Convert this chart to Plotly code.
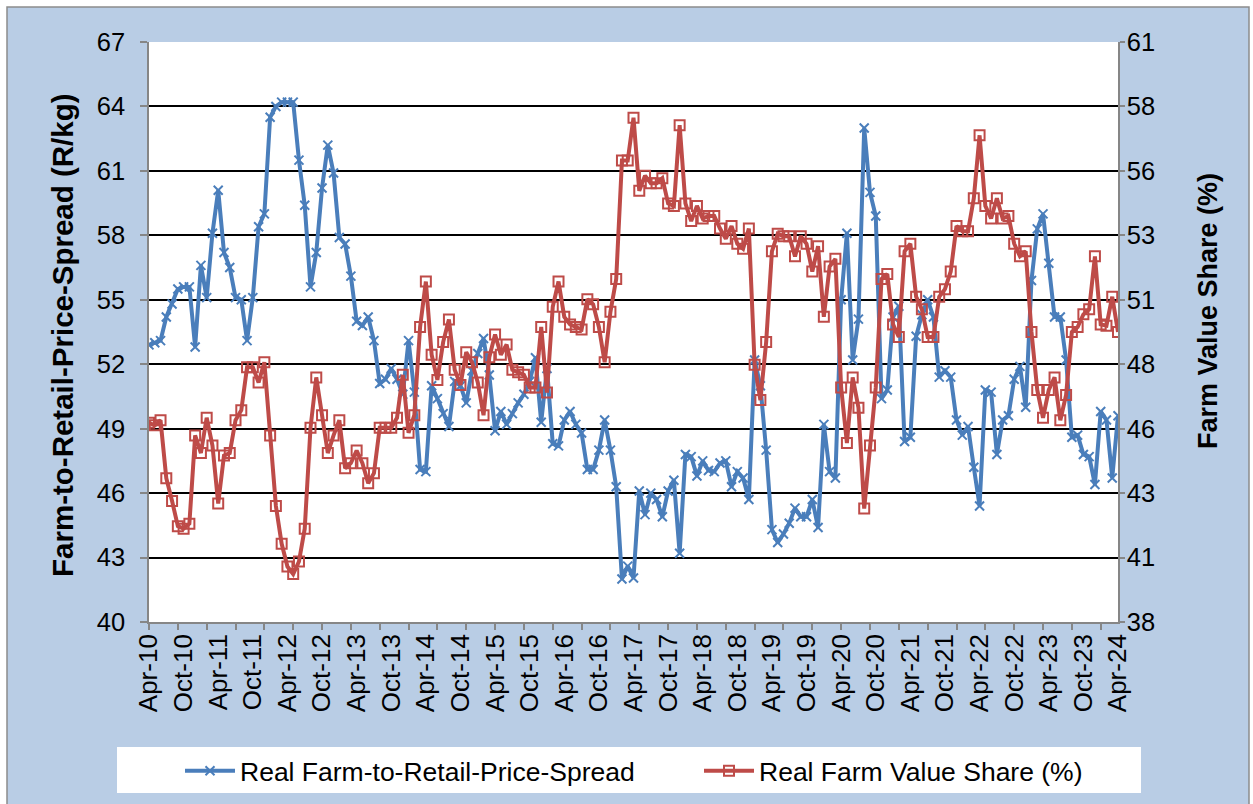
import plotly.graph_objects as go
import pandas as pd

# Monthly categories Apr-2010 .. Apr-2024
months = pd.date_range("2010-04-01", "2024-04-01", freq="MS")
month_labels = [d.strftime("%b-%y") for d in months]

# Real Farm-to-Retail-Price-Spread (R/kg) - left axis
spread = [
    52.9, 53.0, 53.1, 54.2, 54.8, 55.5, 55.6, 55.6, 52.8, 56.6,
    55.1, 58.1, 60.1, 57.2, 56.5, 55.1, 55.0, 53.1, 55.1, 58.4,
    59.0, 63.5, 64.0, 64.2, 64.2, 64.2, 61.5, 59.4, 55.6, 57.2,
    60.2, 62.2, 60.9, 57.9, 57.6, 56.1, 54.0, 53.8, 54.2, 53.1,
    51.1, 51.3, 51.8, 51.3, 50.6, 53.1, 50.7, 47.1, 47.0, 51.0,
    50.4, 49.7, 49.1, 51.2, 51.0, 50.2, 51.7, 52.5, 53.2, 51.5,
    48.9, 49.8, 49.2, 49.7, 50.2, 50.6, 51.2, 52.3, 49.3, 51.8,
    48.3, 48.2, 49.4, 49.8, 49.2, 48.8, 47.1, 47.1, 48.0, 49.4,
    48.0, 46.3, 42.0, 42.6, 42.05, 46.1, 45.0, 46.0, 45.7, 44.9,
    46.1, 46.6, 43.2, 47.8, 47.7, 46.8, 47.5, 47.05, 47.0, 47.4,
    47.5, 46.3, 47.0, 46.7, 45.7, 52.2, 51.0, 48.0, 44.3, 43.7,
    44.1, 44.6, 45.3, 44.9, 44.9, 45.7, 44.4, 49.2, 47.0, 46.7,
    55.0, 58.1, 52.2, 54.1, 63.0, 60.0, 58.9, 50.4, 50.8, 54.2,
    54.7, 48.4, 48.6, 53.3, 54.3, 55.0, 54.2, 51.4, 51.7, 51.4,
    49.4, 48.7, 49.1, 47.2, 45.4, 50.8, 50.7, 47.8, 49.4, 49.6,
    51.3, 51.9, 50.0, 55.9, 58.3, 59.0, 56.7, 54.2, 54.2, 52.2,
    48.6, 48.7, 47.8, 47.7, 46.4, 49.8, 49.4, 46.7, 49.6,
]

# Real Farm Value Share (%) - right axis
share = [
    45.9, 45.8, 46.0, 43.7, 42.8, 41.8, 41.7, 41.9, 45.4, 44.7,
    46.1, 45.0, 42.7, 44.6, 44.7, 46.0, 46.4, 48.1, 48.1, 47.5,
    48.3, 45.4, 42.6, 41.1, 40.2, 39.9, 40.4, 41.7, 45.7, 47.7,
    46.2, 44.7, 45.4, 46.0, 44.1, 44.3, 44.8, 44.3, 43.5, 43.9,
    45.7, 45.7, 45.7, 46.1, 47.8, 45.5, 46.2, 49.7, 51.5, 48.6,
    47.6, 49.1, 50.0, 48.0, 47.4, 48.7, 48.3, 47.5, 46.2, 48.5,
    49.4, 48.6, 49.0, 48.0, 47.9, 47.8, 47.3, 47.3, 49.7, 47.1,
    50.5, 51.5, 50.1, 49.8, 49.7, 49.6, 50.8, 50.6, 49.7, 48.3,
    50.3, 51.6, 56.3, 56.3, 58.0, 55.1, 55.7, 55.4, 55.4, 55.6,
    54.6, 54.5, 57.7, 54.6, 53.9, 54.5, 54.0, 54.1, 54.1, 53.6,
    53.2, 53.7, 53.0, 52.8, 53.6, 48.2, 46.8, 49.1, 52.7, 53.4,
    53.3, 53.3, 52.5, 53.3, 53.0, 51.9, 52.9, 50.1, 52.1, 52.4,
    47.3, 45.1, 47.7, 46.5, 42.5, 45.0, 47.3, 51.6, 51.8, 49.8,
    49.3, 52.7, 53.0, 50.9, 50.4, 49.3, 49.3, 50.9, 51.2, 51.9,
    53.7, 53.5, 53.5, 54.8, 57.3, 54.5, 54.0, 54.8, 54.0, 54.1,
    53.0, 52.5, 52.7, 49.5, 47.2, 46.1, 47.2, 47.7, 46.0, 47.0,
    49.5, 49.7, 50.2, 50.4, 52.5, 49.8, 49.75, 50.9, 49.5,
]

left_ticks = [40, 43, 46, 49, 52, 55, 58, 61, 64, 67]
right_tickvals = [38 + k * 23 / 9 for k in range(10)]
right_ticktext = [str(int(round(v))) for v in right_tickvals]

idx = list(range(len(month_labels)))
label_idx = idx[::6]
label_txt = month_labels[::6]

BLUE = "#4A7EBB"
RED = "#BE4B48"
FONT = "Liberation Sans, Arial, sans-serif"

fig = go.Figure()
fig.add_trace(go.Scatter(
    x=idx, y=spread, name="Real Farm-to-Retail-Price-Spread",
    mode="lines+markers", legend="legend",
    line=dict(color=BLUE, width=4),
    marker=dict(symbol="x-thin", size=9, line=dict(color=BLUE, width=2), color=BLUE),
))
fig.add_trace(go.Scatter(
    x=idx, y=share, name="Real Farm Value Share (%)", yaxis="y2",
    mode="lines+markers", legend="legend2",
    line=dict(color=RED, width=4),
    marker=dict(symbol="square-open", size=10, line=dict(color=RED, width=2), color=RED),
))

# plot-area pixel geometry
L, R, T, B = 149, 1118, 42, 622
W, H = 1253, 804
def px(x):
    return (x - L) / (R - L)
def py(y):
    return (B - y) / (B - T)

shapes = [
    dict(type="rect", xref="paper", yref="paper", layer="below",
         x0=px(7), x1=px(1249), y0=py(806), y1=py(7),
         fillcolor="#B9CDE5", line=dict(color="#8C8C8C", width=1.5)),
    dict(type="rect", xref="paper", yref="paper", layer="below",
         x0=0, x1=1, y0=0, y1=1, fillcolor="white", line=dict(width=0)),
    dict(type="rect", xref="paper", yref="paper", layer="below",
         x0=px(117), x1=px(1141), y0=py(793), y1=py(747),
         fillcolor="white", line=dict(width=0)),
]

annotations = [
    dict(text="<b>Farm-to-Retail-Price-Spread (R/kg)</b>", textangle=-90,
         xref="paper", yref="paper", x=px(62), y=py(335),
         xanchor="center", yanchor="middle", showarrow=False,
         font=dict(size=29.5)),
    dict(text="<b>Farm Value Share (%)</b>", textangle=-90,
         xref="paper", yref="paper", x=px(1208), y=py(311),
         xanchor="center", yanchor="middle", showarrow=False,
         font=dict(size=27)),
]

leg_common = dict(orientation="h", xref="container", yref="container",
                  xanchor="left", yanchor="middle", bgcolor="rgba(0,0,0,0)",
                  font=dict(size=26.5), itemwidth=50)

fig.update_layout(
    width=W, height=H,
    margin=dict(l=L, r=W - R, t=T, b=H - B, autoexpand=False),
    paper_bgcolor="white", plot_bgcolor="white",
    font=dict(family=FONT, size=25, color="black"),
    shapes=shapes,
    annotations=annotations,
    showlegend=True,
    legend=dict(x=180 / W, y=1 - 771 / H, **leg_common),
    legend2=dict(x=699 / W, y=1 - 771 / H, **leg_common),
    xaxis=dict(range=[0, 168], tickmode="array", tickvals=label_idx, ticktext=label_txt,
               tickangle=-90, ticks="", showgrid=False, zeroline=False,
               showline=True, linecolor="#868686", linewidth=1.5,
               tickfont=dict(size=26),
               minor=dict(ticks="outside", tick0=0, dtick=5, ticklen=6,
                          tickcolor="#868686", tickwidth=1.5, showgrid=False)),
    yaxis=dict(range=[40, 67], tickmode="array", tickvals=left_ticks,
               showgrid=True, gridcolor="black", gridwidth=1.5, zeroline=False,
               ticks="outside", ticklen=7, tickcolor="#868686", tickwidth=1.5,
               ticklabelstandoff=10,
               showline=True, linecolor="#868686", linewidth=1.5,
               tickfont=dict(size=25.5)),
    yaxis2=dict(range=[38, 61], overlaying="y", side="right", tickmode="array",
                tickvals=right_tickvals, ticktext=right_ticktext,
                showgrid=False, zeroline=False,
                ticks="outside", ticklen=5, tickcolor="#868686", tickwidth=1.5,
                ticklabelstandoff=-3,
                showline=True, linecolor="#868686", linewidth=1.5,
                tickfont=dict(size=25.5)),
)

fig.write_html("out.html", config={"displayModeBar": False},
               post_script="document.body.style.margin='0px';")
